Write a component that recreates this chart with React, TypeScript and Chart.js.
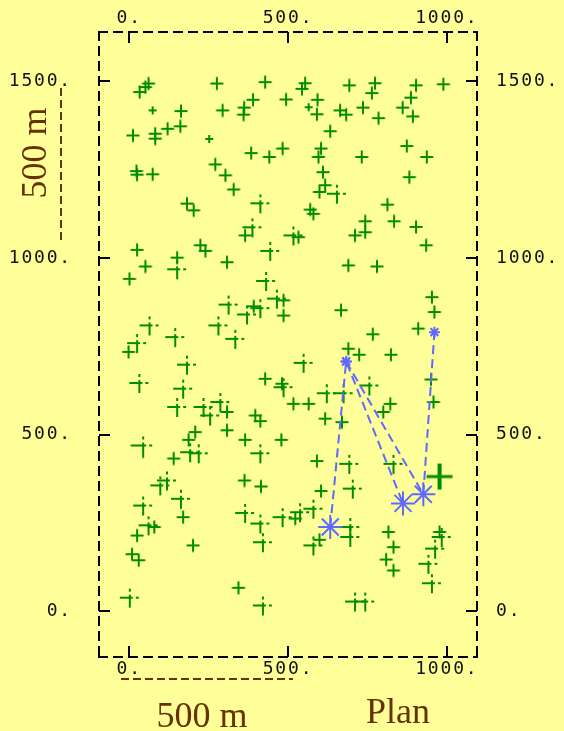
import React, { useEffect, useRef } from 'react';
import { Chart, registerables } from 'chart.js';

Chart.register(...registerables);

// ---------- data ----------
const xTickValues = [0, 500, 1000];
const yTickValues = [0, 500, 1000, 1500];

const siteX = [
  61, 51, 33, 276, 428, 494, 74, 163, 294, 362, 390, 360, 161, 121, 12, 82, 82, 252, 384, 441, 483, 23, 25, 74, 271, 303, 329, 182, 203, 413,
  554, 544, 693, 774, 764, 903, 989, 593, 565, 591, 664, 683, 736, 861, 887, 893, 785, 633, 604, 596, 732, 874, 937, 610, 882, 617, 599, 654, 813, 570, 580,
  743, 834, 743, 711, 903, 935, 517, 533, 690, 780, 953, 961, 667, 486, 486, 910, 767, 690, 724, 824, 549, 950, 756, 622, 675, 486,
  388, 365, 25, 151, 224, 240, 444, 51, 151, 308, 1, 431, 465, 313, 371, 392, 413, 64, 281, 145, 334, 25, -2, 182, 32, 170, 428, 481,
  151, 234, 287, 255, 308, 397, 413, 308, 208, 187, 44, 365, 479, 140, 192, 219, 413, 119, 98, 163, 44, 365, 415, 363, 170, 61, 79, 25, 413, 483, 421, 201, 9, 30, 344, 2, 421,
  517, 565, 617, 670, 800, 822, 958, 591, 693, 832, 977, 604, 704, 580, 538, 523, 696, 696, 599, 580, 816, 832, 809, 832, 977, 984, 963, 942, 953, 711, 743,
];
const siteY = [
  1494, 1484, 1470, 1494, 1498, 1449, 1418, 1416, 1418, 1426, 1448, 1406, 1373, 1366, 1347, 1352, 1338, 1337, 1297, 1286, 1310, 1246, 1236, 1237, 1265, 1234, 1194, 1154, 1135, 1155,
  1495, 1479, 1489, 1495, 1467, 1489, 1492, 1448, 1427, 1407, 1418, 1406, 1426, 1426, 1454, 1401, 1396, 1359, 1310, 1286, 1286, 1317, 1286, 1243, 1229, 1206, 1187, 1182, 1151, 1137, 1125,
  1104, 1104, 1073, 1064, 1088, 1036, 1064, 1059, 979, 976, 889, 847, 852, 880, 837, 800, 784, 743, 726, 726, 703, 656, 639, 617, 617, 634,
  1087, 1064, 1023, 1001, 1036, 1020, 1020, 976, 968, 988, 941, 935, 885, 868, 840, 863, 858, 809, 809, 776, 771, 759, 734, 698, 646, 630, 658, 644,
  578, 578, 592, 554, 564, 554, 538, 512, 507, 485, 469, 485, 485, 432, 450, 447, 447, 370, 356, 318, 299, 278, 353, 370, 266, 243, 238, 214, 248, 266, 195, 186, 161, 144, 66, 38, 16,
  587, 587, 545, 535, 564, 587, 592, 425, 417, 417, 381, 340, 347, 290, 280, 262, 238, 210, 202, 186, 224, 181, 146, 115, 224, 210, 177, 134, 79, 27, 27,
];
// size class of each site (1 small ... 5 largest)
const siteClass = [
  2, 2, 2, 2, 2, 2, 1, 2, 2, 2, 2, 2, 2, 2, 2, 2, 2, 1, 2, 2, 2, 2, 2, 2, 2, 2, 2, 2, 2, 3,
  2, 2, 2, 2, 2, 2, 2, 2, 1, 2, 2, 2, 2, 2, 2, 2, 2, 2, 2, 2, 2, 2, 2, 2, 2, 2, 2, 3, 2, 2, 2,
  2, 2, 2, 2, 2, 2, 3, 2, 2, 2, 2, 2, 2, 2, 2, 2, 2, 2, 2, 2, 3, 2, 3, 3, 3, 3,
  3, 2, 2, 2, 2, 2, 3, 2, 3, 2, 2, 3, 3, 3, 3, 2, 3, 3, 3, 3, 3, 3, 2, 3, 3, 3, 2, 2,
  3, 3, 3, 3, 2, 2, 2, 2, 2, 2, 4, 2, 2, 2, 3, 3, 3, 3, 3, 3, 3, 3, 2, 2, 2, 3, 2, 2, 3, 3, 3, 2, 2, 2, 2, 3, 3,
  2, 2, 2, 2, 2, 2, 2, 2, 3, 3, 5, 2, 3, 3, 3, 2, 3, 3, 2, 3, 2, 2, 2, 2, 2, 3, 3, 3, 3, 3, 3,
];

// blue track (two dashed paths)
const trackOneX = [633, 683, 862];
const trackOneY = [238, 707, 305];
const trackOneClass = [2, 1, 2];
const trackTwoX = [683, 926, 961];
const trackTwoY = [707, 331, 790];
const trackTwoClass = [1, 2, 1];

const scaleBarText = '500 m';
const planText = 'Plan';

// ---------- styles ----------
const GREEN = '#008c00';
const BLUE = '#5f69ff';
const BROWN = '#663300';
const BG = '#ffff99';
const TICK_FONT = "'DejaVu Sans Mono', monospace";

const crossRadius = (c: number) => [0, 4, 6.5, 10, 12.5, 13][c];
const starRadius = (c: number) => (c === 2 ? 12 : 5.5);

const crossCache = new Map<number, HTMLCanvasElement>();
function crossImage(cls: number): HTMLCanvasElement {
  const hit = crossCache.get(cls);
  if (hit) return hit;
  const r = crossRadius(cls);
  const size = 2 * Math.ceil(r + 2);
  const c = document.createElement('canvas');
  c.width = size;
  c.height = size;
  const g = c.getContext('2d')!;
  const m = size / 2;
  g.strokeStyle = GREEN;
  g.lineCap = 'butt';
  const dash = cls === 3 || cls === 4 ? [r + 3, 3, 3, 100] : [];
  g.setLineDash(dash);
  g.lineWidth = cls === 5 ? 3 : 2;
  g.beginPath();
  g.moveTo(m - r, m);
  g.lineTo(m + r, m);
  g.stroke();
  g.lineWidth = cls === 5 ? 4 : 2;
  g.beginPath();
  g.moveTo(m, m + r);
  g.lineTo(m, m - r);
  g.stroke();
  crossCache.set(cls, c);
  return c;
}

export default function App() {
  const ref = useRef<HTMLCanvasElement | null>(null);

  useEffect(() => {
    if (!ref.current) return;

    const axisCommon = (ticksVals: number[], padding: number) => ({
      type: 'linear' as const,
      grid: {
        display: true,
        drawOnChartArea: false,
        drawTicks: true,
        tickLength: -11,
        tickWidth: 2,
        tickColor: '#000',
        lineWidth: 2,
        color: '#000',
      },
      border: { display: false },
      ticks: {
        padding,
        maxRotation: 0,
        minRotation: 0,
        autoSkip: false,
        color: '#111',
        font: { family: TICK_FONT, size: 18 },
        callback: (v: any) => `${v}.`,
      },
      afterBuildTicks: (scale: any) => {
        scale.ticks = ticksVals.map((v) => ({ value: v }));
      },
    });

    const decoPlugin = {
      id: 'deco',
      beforeDraw(chart: any) {
        chart.ctx.letterSpacing = '1.8px';
      },
      beforeDatasetsDraw(chart: any) {
        const ctx = chart.ctx;
        ctx.letterSpacing = '0px';
        const { left, right, top, bottom } = chart.chartArea;
        ctx.save();
        ctx.strokeStyle = '#000';
        ctx.lineWidth = 2;
        ctx.setLineDash([10, 5]);
        const seg = (x1: number, y1: number, x2: number, y2: number) => {
          ctx.beginPath();
          ctx.moveTo(x1, y1);
          ctx.lineTo(x2, y2);
          ctx.stroke();
        };
        seg(left - 1, top, right + 1, top);
        seg(left, top - 1, left, bottom + 1);
        seg(right, top - 1, right, bottom + 1);
        seg(left - 1, bottom, right + 1, bottom);
        ctx.restore();
      },
      afterDraw(chart: any) {
        const ctx = chart.ctx;
        ctx.save();
        ctx.letterSpacing = '0px';
        ctx.strokeStyle = BROWN;
        ctx.lineWidth = 2;
        ctx.setLineDash([8, 4]);
        ctx.beginPath();
        ctx.moveTo(61, 88);
        ctx.lineTo(61, 242);
        ctx.stroke();
        ctx.beginPath();
        ctx.moveTo(121, 679);
        ctx.lineTo(293, 679);
        ctx.stroke();
        ctx.setLineDash([]);
        ctx.fillStyle = BROWN;
        ctx.font = "36px 'Liberation Serif', serif";
        ctx.textAlign = 'center';
        ctx.textBaseline = 'alphabetic';
        ctx.fillText(scaleBarText, 202, 727);
        ctx.fillText(planText, 398, 723);
        ctx.translate(46, 153);
        ctx.rotate(-Math.PI / 2);
        ctx.fillText(scaleBarText, 0, 0);
        ctx.restore();
      },
    };

    const chart = new Chart(ref.current, {
      type: 'scatter',
      data: {
        datasets: [
          {
            data: trackOneX.map((x, i) => ({ x, y: trackOneY[i] })),
            showLine: true,
            borderColor: BLUE,
            borderWidth: 2,
            borderDash: [9, 5],
            pointStyle: 'star',
            pointRadius: trackOneClass.map(starRadius),
            pointBorderColor: BLUE,
            pointBackgroundColor: BLUE,
            pointBorderWidth: 2,
          },
          {
            data: trackTwoX.map((x, i) => ({ x, y: trackTwoY[i] })),
            showLine: true,
            borderColor: BLUE,
            borderWidth: 2,
            borderDash: [9, 5],
            pointStyle: 'star',
            pointRadius: trackTwoClass.map(starRadius),
            pointBorderColor: BLUE,
            pointBackgroundColor: BLUE,
            pointBorderWidth: 2,
          },
          {
            data: siteX.map((x, i) => ({ x, y: siteY[i] })),
            pointStyle: siteClass.map(crossImage),
            pointRadius: siteClass.map(crossRadius),
            pointBorderColor: GREEN,
            pointBackgroundColor: GREEN,
          },
        ],
      },
      options: {
        responsive: false,
        maintainAspectRatio: false,
        devicePixelRatio: 1,
        animation: false,
        layout: { padding: 0 },
        plugins: { legend: { display: false }, tooltip: { enabled: false } },
        scales: {
          x: {
            ...axisCommon(xTickValues, 13),
            position: 'bottom',
            min: -95,
            max: 1095,
            afterFit: (s: any) => { s.height = 74; s.paddingLeft = 0; s.paddingRight = 0; },
          },
          x2: {
            ...axisCommon(xTickValues, 14),
            axis: 'x',
            position: 'top',
            min: -95,
            max: 1095,
            afterFit: (s: any) => { s.height = 32; s.paddingLeft = 0; s.paddingRight = 0; },
          },
          y: {
            ...axisCommon(yTickValues, 38),
            position: 'left',
            min: -130,
            max: 1640,
            afterFit: (s: any) => { s.width = 99; s.paddingTop = 0; s.paddingBottom = 0; },
          },
          y2: {
            ...axisCommon(yTickValues, 30),
            axis: 'y',
            position: 'right',
            min: -130,
            max: 1640,
            afterFit: (s: any) => { s.width = 87; s.paddingTop = 0; s.paddingBottom = 0; },
          },
        },
      } as any,
      plugins: [decoPlugin],
    });

    return () => chart.destroy();
  }, []);

  return (
    <div style={{ position: 'absolute', left: 0, top: 0, width: 564, height: 731, background: BG }}>
      <canvas ref={ref} width={564} height={731} style={{ display: 'block' }} />
    </div>
  );
}
